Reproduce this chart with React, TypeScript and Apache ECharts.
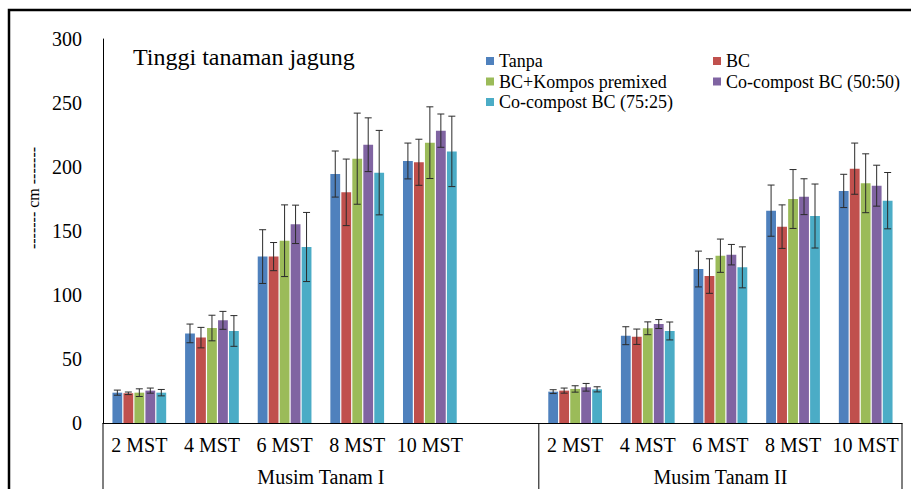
import React, { useEffect, useRef } from 'react';
import * as echarts from 'echarts';

const categories = ['2 MST', '4 MST', '6 MST', '8 MST', '10 MST', '', '2 MST', '4 MST', '6 MST', '8 MST', '10 MST'];
const groupLabels = ['Musim Tanam I', 'Musim Tanam II'];
const seriesNames = ['Tanpa', 'BC', 'BC+Kompos premixed', 'Co-compost BC (50:50)', 'Co-compost BC (75:25)'];
const colors = ['#4F81BD', '#C0504D', '#9BBB59', '#8064A2', '#4BACC6'];
const yTicks = { min: 0, max: 300, interval: 50 };
const titleText = 'Tinggi tanaman jagung';
const yName = '------- cm -------';

const tanpa = [23.7, 70, 130, 194.5, 204.7, null, 24.5, 68.2, 120.3, 165.9, 181.3];
const tanpaErr = [2, 7.3, 21, 18, 14, null, 1.5, 7, 14, 20, 13];
const bc = [23.2, 66.7, 130, 180.2, 203.7, null, 25.3, 67.4, 114.8, 153.4, 198.7];
const bcErr = [1, 8, 11, 26, 18, null, 2, 6, 13.5, 17, 20];
const bcKompos = [23.7, 74.2, 142.4, 206.5, 219, null, 26.6, 74, 130.7, 175, 187.3];
const bcKomposErr = [3, 10, 28, 35.6, 28, null, 2.5, 5, 13, 23, 23];
const co5050 = [25.3, 80.2, 155.2, 217.4, 228.4, null, 27.9, 77.3, 131.5, 176.8, 185.4];
const co5050Err = [2, 7, 15, 21, 13, null, 3, 3.5, 8, 14, 16];
const co7525 = [23.7, 71.9, 137.5, 195.6, 212.2, null, 26.3, 71.9, 121.6, 161.7, 173.7];
const co7525Err = [2.5, 12, 27, 33, 27.5, null, 2, 7, 16, 25, 22];

const values = [tanpa, bc, bcKompos, co5050, co7525];
const errors = [tanpaErr, bcErr, bcKomposErr, co5050Err, co7525Err];

const FONT = 'Liberation Serif';
const BAR_W = 0.135;
const BAR_GAP = 0.12;

export default function App() {
  const ref = useRef<HTMLDivElement>(null);
  useEffect(() => {
    if (!ref.current) return;
    const chart = echarts.init(ref.current, null, { renderer: 'svg' });
    const n = seriesNames.length;

    const barSeries = seriesNames.map((name, i) => ({
      name,
      type: 'bar',
      data: values[i],
      barWidth: (BAR_W * 100) + '%',
      barGap: (BAR_GAP * 100) + '%',
      itemStyle: { color: colors[i] },
      z: 2,
    }));

    const errSeries = seriesNames.map((name, i) => ({
      name: name + ' error',
      type: 'custom',
      silent: true,
      z: 5,
      encode: { x: 0, y: 1 },
      data: values[i]
        .map((v, k) => (v == null ? null : [k, v, errors[i][k]]))
        .filter((d) => d !== null),
      renderItem: (params: any, api: any) => {
        const idx = api.value(0);
        const v = api.value(1);
        const e = api.value(2);
        const c = api.coord([idx, v]);
        const band = api.size([1, 0])[0];
        const w = band * BAR_W;
        const x = c[0] + (i - (n - 1) / 2) * w * (1 + BAR_GAP);
        const top = api.coord([idx, v + e])[1];
        const bot = api.coord([idx, v - e])[1];
        const st = { stroke: '#2b2b2b', lineWidth: 1 };
        return {
          type: 'group',
          children: [
            { type: 'line', shape: { x1: x, y1: top, x2: x, y2: bot }, style: st },
            { type: 'line', shape: { x1: x - 3.5, y1: top, x2: x + 3.5, y2: top }, style: st },
            { type: 'line', shape: { x1: x - 3.5, y1: bot, x2: x + 3.5, y2: bot }, style: st },
          ],
        };
      },
    }));

    const legendCommon = {
      orient: 'vertical',
      top: 52,
      padding: 0,
      itemWidth: 8,
      itemHeight: 8,
      itemGap: 2.5,
      icon: 'rect',
      textStyle: { fontFamily: FONT, fontSize: 18, color: '#000', lineHeight: 18 },
    };

    const option: any = {
      animation: false,
      backgroundColor: '#fff',
      textStyle: { fontFamily: FONT },
      grid: { left: 103, right: 9, top: 39, bottom: 66, containLabel: false },
      legend: [
        { ...legendCommon, left: 486, data: [seriesNames[0], seriesNames[2], seriesNames[4]] },
        { ...legendCommon, left: 713, data: [seriesNames[1], seriesNames[3]] },
      ],
      xAxis: {
        type: 'category',
        data: categories,
        axisTick: { show: false },
        axisLine: { lineStyle: { color: '#000', width: 1 } },
        axisLabel: { interval: 0, fontFamily: FONT, fontSize: 20, color: '#000', margin: 12 },
      },
      yAxis: {
        type: 'value',
        min: yTicks.min,
        max: yTicks.max,
        interval: yTicks.interval,
        axisLine: { show: true, lineStyle: { color: '#000', width: 1 } },
        axisTick: { show: false },
        splitLine: { show: false },
        axisLabel: { fontFamily: FONT, fontSize: 20, color: '#000', margin: 21 },
      },
      series: [...barSeries, ...errSeries],
    };
    chart.setOption(option);

    const c0 = chart.convertToPixel({ xAxisIndex: 0 }, 0) as number;
    const c1 = chart.convertToPixel({ xAxisIndex: 0 }, 1) as number;
    const band = c1 - c0;
    const left = c0 - band / 2;
    const mid = (chart.convertToPixel({ xAxisIndex: 0 }, 6) as number) - band / 2;
    const right = (chart.convertToPixel({ xAxisIndex: 0 }, categories.length - 1) as number) + band / 2;
    const baseY = chart.convertToPixel({ yAxisIndex: 0 }, 0) as number;
    const lineStyle = { stroke: '#000', lineWidth: 1 };

    chart.setOption({
      graphic: [
        { type: 'rect', shape: { x: 9, y: 10, width: 1000, height: 1000 }, style: { fill: 'none', stroke: '#000', lineWidth: 2.5 }, silent: true },
        { type: 'line', shape: { x1: left, y1: baseY, x2: left, y2: 500 }, style: lineStyle },
        { type: 'line', shape: { x1: mid, y1: baseY, x2: mid, y2: 500 }, style: lineStyle },
        { type: 'line', shape: { x1: right, y1: baseY, x2: right, y2: 500 }, style: lineStyle },
        {
          type: 'text', x: (left + mid) / 2, y: 477,
          style: { text: groupLabels[0], font: '20px ' + FONT, fill: '#000', align: 'center', verticalAlign: 'middle' },
        },
        {
          type: 'text', x: (mid + right) / 2, y: 477,
          style: { text: groupLabels[1], font: '20px ' + FONT, fill: '#000', align: 'center', verticalAlign: 'middle' },
        },
        {
          type: 'text', x: 133, y: 57,
          style: { text: titleText, font: '24px ' + FONT, fill: '#000', align: 'left', verticalAlign: 'middle' },
        },
        {
          type: 'text', x: 33, y: 198, rotation: Math.PI / 2,
          style: { text: yName, font: '16px ' + FONT, fill: '#000', align: 'center', verticalAlign: 'middle' },
        },
      ],
    });

    return () => chart.dispose();
  }, []);

  return (
    <div
      ref={ref}
      style={{ position: 'absolute', left: 0, top: 0, width: 911, height: 489, background: '#fff' }}
    />
  );
}
